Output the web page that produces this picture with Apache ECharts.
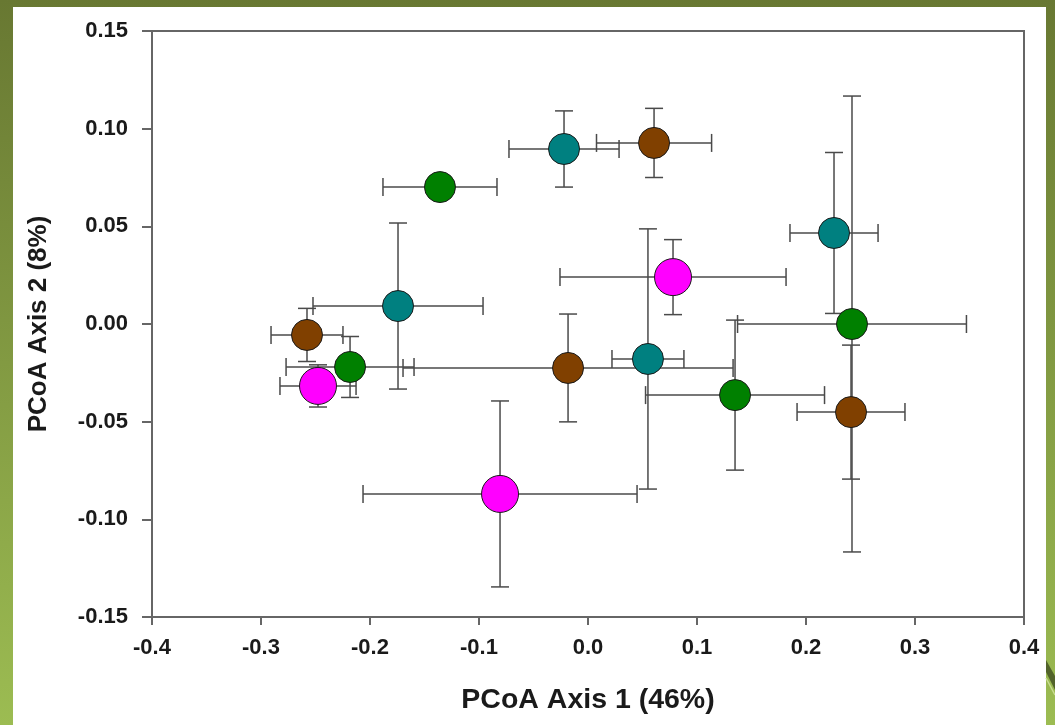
<!DOCTYPE html>
<html><head><meta charset="utf-8">
<script src="https://cdn.jsdelivr.net/npm/echarts@6/dist/echarts.min.js"></script>
<style>
html,body{margin:0;padding:0;}
body{width:1055px;height:725px;background:linear-gradient(#687832,#9cbc52);position:relative;overflow:hidden;}
#panel{position:absolute;left:13px;top:7px;width:1033px;height:718px;background:#fff;}
#chart{position:absolute;left:0;top:0;width:1055px;height:725px;}
</style></head><body>
<div id="panel"></div>
<div id="chart"></div>
<script>
// Each point: [x, y, xErr (±), yErr (±)]
const brownPoints = [
  [0.0606, 0.0927, 0.0528, 0.0177],
  [0.2413, -0.0451, 0.0495, 0.0343],
  [-0.0183, -0.0225, 0.1514, 0.0276],
  [-0.2578, -0.0056, 0.0330, 0.0136]
];
const tealPoints = [
  [-0.0220, 0.0896, 0.0505, 0.0195],
  [0.2257, 0.0466, 0.0404, 0.0412],
  [0.0550, -0.0179, 0.0330, 0.0666],
  [-0.1743, 0.0092, 0.0780, 0.0425]
];
const greenPoints = [
  [-0.1358, 0.0701, 0.0523, 0.0050],
  [0.2422, 0.0000, 0.1050, 0.1167],
  [0.1349, -0.0364, 0.0821, 0.0384],
  [-0.2183, -0.0220, 0.0587, 0.0156]
];
const magentaPoints = [
  [0.0780, 0.0240, 0.1037, 0.0192],
  [-0.2477, -0.0317, 0.0349, 0.0108],
  [-0.0807, -0.0870, 0.1257, 0.0476]
];
const xTicks = [-0.4, -0.3, -0.2, -0.1, 0.0, 0.1, 0.2, 0.3, 0.4];
const yTicks = [-0.15, -0.10, -0.05, 0.00, 0.05, 0.10, 0.15];
const xTitle = 'PCoA Axis 1 (46%)';
const yTitle = 'PCoA Axis 2 (8%)';

const groups = [
  {pts: brownPoints, color: '#804000', size: 31},
  {pts: tealPoints, color: '#008080', size: 31},
  {pts: greenPoints, color: '#008000', size: 31},
  {pts: magentaPoints, color: '#ff00ff', size: 37}
];

const CAP = 9;
const BAR_COLOR = '#4a4a4a';
function errRender(params, api) {
  const x = api.value(0), y = api.value(1), xe = api.value(2), ye = api.value(3);
  const l = api.coord([x - xe, y]), r = api.coord([x + xe, y]);
  const t = api.coord([x, y + ye]), b = api.coord([x, y - ye]);
  const st = {stroke: BAR_COLOR, lineWidth: 1.5, fill: null};
  return {
    type: 'group',
    children: [
      {type: 'line', shape: {x1: l[0], y1: l[1], x2: r[0], y2: r[1]}, style: st},
      {type: 'line', shape: {x1: l[0], y1: l[1] - CAP, x2: l[0], y2: l[1] + CAP}, style: st},
      {type: 'line', shape: {x1: r[0], y1: r[1] - CAP, x2: r[0], y2: r[1] + CAP}, style: st},
      {type: 'line', shape: {x1: t[0], y1: t[1], x2: b[0], y2: b[1]}, style: st},
      {type: 'line', shape: {x1: t[0] - CAP, y1: t[1], x2: t[0] + CAP, y2: t[1]}, style: st},
      {type: 'line', shape: {x1: b[0] - CAP, y1: b[1], x2: b[0] + CAP, y2: b[1]}, style: st}
    ]
  };
}

const series = [];
groups.forEach(g => {
  series.push({
    type: 'custom', renderItem: errRender, data: g.pts,
    encode: {x: 0, y: 1}, silent: true, animation: false, clip: false
  });
  series.push({
    type: 'scatter', data: g.pts.map(p => [p[0], p[1]]),
    symbol: 'circle', symbolSize: g.size,
    itemStyle: {color: g.color, borderColor: '#1a1a1a', borderWidth: 1, opacity: 1},
    animation: false
  });
});

const labelFont = {fontFamily: 'Liberation Sans, Arial, sans-serif', fontWeight: 'bold', color: '#1a1a1a'};
const chart = echarts.init(document.getElementById('chart'), null, {renderer: 'canvas'});
chart.setOption({
  backgroundColor: 'transparent',
  animation: false,
  grid: {left: 152, top: 31, right: 31, bottom: 108, show: true, borderColor: '#666', borderWidth: 2, backgroundColor: 'transparent'},
  xAxis: {
    type: 'value', min: xTicks[0], max: xTicks[xTicks.length - 1], interval: 0.1,
    axisLine: {show: true, onZero: false, lineStyle: {color: '#666', width: 2}},
    axisTick: {show: true, length: 8, lineStyle: {color: '#666', width: 2}},
    splitLine: {show: false},
    axisLabel: Object.assign({fontSize: 22, margin: 20, formatter: v => {
      const f = xTicks.find(t => Math.abs(t - v) < 1e-9); return f === undefined ? '' : f.toFixed(1);
    }}, labelFont),
    name: xTitle, nameLocation: 'middle', nameGap: 69,
    nameTextStyle: Object.assign({fontSize: 28.5}, labelFont)
  },
  yAxis: {
    type: 'value', min: yTicks[0], max: yTicks[yTicks.length - 1], interval: 0.05,
    axisLine: {show: true, onZero: false, lineStyle: {color: '#666', width: 2}},
    axisTick: {show: true, length: 10, lineStyle: {color: '#666', width: 2}},
    splitLine: {show: false},
    axisLabel: Object.assign({fontSize: 22, margin: 24, formatter: v => {
      const f = yTicks.find(t => Math.abs(t - v) < 1e-9); return f === undefined ? '' : f.toFixed(2);
    }}, labelFont),
    name: yTitle, nameLocation: 'middle', nameGap: 100, nameRotate: 90,
    nameTextStyle: Object.assign({fontSize: 26}, labelFont)
  },
  graphic: [
    {type: 'polygon', silent: true, z: 100, shape: {points: [[1046, 660], [1055, 676], [1055, 690], [1046, 672]]}, style: {fill: '#52632a'}},
    {type: 'line', silent: true, z: 100, shape: {x1: 1046, y1: 678, x2: 1055, y2: 695}, style: {stroke: '#c8dc90', lineWidth: 1.5}}
  ],
  series: series
});
</script>
</body></html>
